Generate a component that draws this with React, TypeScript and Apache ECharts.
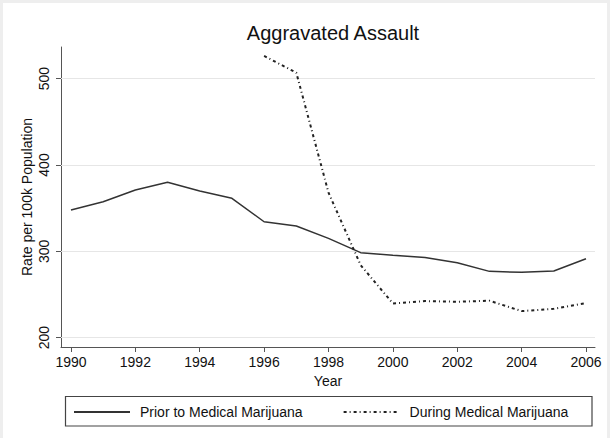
import React, { useEffect, useRef } from "react";
import * as echarts from "echarts";

const years = [1990, 1991, 1992, 1993, 1994, 1995, 1996, 1997, 1998, 1999, 2000, 2001, 2002, 2003, 2004, 2005, 2006];
const priorValues = [348, 357.5, 371, 380, 370, 361.4, 334.3, 329.3, 315, 298.5, 295.6, 293, 286.8, 276.8, 275.7, 277.2, 291.4];
const duringYears = [1996, 1997, 1998, 1999, 2000, 2001, 2002, 2003, 2004, 2005, 2006];
const duringValues = [526.3, 507, 368, 284, 239.7, 242.4, 241.6, 242.8, 230.8, 233.5, 240];
const xTicks = [1990, 1992, 1994, 1996, 1998, 2000, 2002, 2004, 2006];
const yTicks = [200, 300, 400, 500];

const FONT = "'Liberation Sans', Arial, Helvetica, sans-serif";

export default function App() {
  const ref = useRef<HTMLDivElement>(null);
  useEffect(() => {
    if (!ref.current) return;
    const chart = echarts.init(ref.current, undefined, { renderer: "svg" });
    const option = {
      animation: false,
      backgroundColor: "#ffffff",
      textStyle: { fontFamily: FONT },
      title: {
        text: "Aggravated Assault",
        left: 328,
        textAlign: "center",
        top: 18,
        textStyle: { fontFamily: FONT, fontSize: 20, fontWeight: "normal", color: "#111" },
      },
      grid: { left: 61, right: 15, top: 47, bottom: 91, containLabel: false },
      xAxis: {
        type: "value",
        min: 1989.69,
        max: 2006.28,
        name: "Year",
        nameLocation: "middle",
        nameGap: 27,
        nameMoveOverlap: false,
        nameTextStyle: { fontFamily: FONT, fontSize: 14, color: "#111" },
        axisLine: { show: true, lineStyle: { color: "#555", width: 1 } },
        axisTick: { show: true, length: 5, customValues: xTicks, lineStyle: { color: "#555" } },
        axisLabel: { customValues: xTicks, margin: 8, fontFamily: FONT, fontSize: 14, color: "#111", formatter: (v: number) => String(v) },
        splitLine: { show: false },
      },
      yAxis: {
        type: "value",
        min: 189.2,
        max: 536.7,
        name: "Rate per 100k Population",
        nameLocation: "middle",
        nameGap: 27,
        nameMoveOverlap: false,
        nameTextStyle: { fontFamily: FONT, fontSize: 14, color: "#111" },
        axisLine: { show: true, lineStyle: { color: "#555", width: 1 } },
        axisTick: { show: true, length: 5, customValues: yTicks, lineStyle: { color: "#555" } },
        axisLabel: { customValues: yTicks, rotate: 90, margin: 10, fontFamily: FONT, fontSize: 14, color: "#111" },
        splitLine: { show: false },
      },
      legend: {
        left: 73,
        top: 405,
        itemWidth: 56,
        itemHeight: 14,
        itemGap: 40,
        padding: 0,
        itemStyle: { opacity: 0 },
        textStyle: { fontFamily: FONT, fontSize: 14, color: "#111", padding: [0, 0, 0, 5] },
        data: ["Prior to Medical Marijuana", "During Medical Marijuana"],
      },
      graphic: [
        {
          type: "rect",
          shape: { x: 1.5, y: 1.5, width: 607, height: 450 },
          style: { fill: "none", stroke: "#eeeeee", lineWidth: 3 },
          silent: true,
        },
        {
          type: "rect",
          shape: { x: 65.5, y: 396.5, width: 526.5, height: 29.5 },
          style: { fill: "none", stroke: "#444", lineWidth: 1.2 },
          silent: true,
        },
      ],
      series: [
        {
          name: "Prior to Medical Marijuana",
          type: "line",
          data: years.map((y, i) => [y, priorValues[i]]),
          symbol: "none",
          showSymbol: false,
          lineStyle: { color: "#333", width: 1.5 },
          itemStyle: { color: "#333" },
          z: 3,
          markLine: {
            silent: true,
            symbol: "none",
            label: { show: false },
            lineStyle: { color: "#e6e6e6", width: 1.2, type: "solid" },
            data: yTicks.map((t) => ({ yAxis: t })),
            z: 1,
          },
        },
        {
          name: "During Medical Marijuana",
          type: "line",
          data: duringYears.map((y, i) => [y, duringValues[i]]),
          symbol: "none",
          showSymbol: false,
          lineStyle: { color: "#222", width: 2, type: [3, 3, 1, 3] },
          itemStyle: { color: "#222" },
          z: 4,
        },
      ],
    };
    chart.setOption(option as any);
    return () => chart.dispose();
  }, []);
  return (
    <div style={{ position: "absolute", left: 0, top: 0, width: 610, height: 438, background: "#fff" }}>
      <div ref={ref} style={{ width: 610, height: 438 }} />
    </div>
  );
}
